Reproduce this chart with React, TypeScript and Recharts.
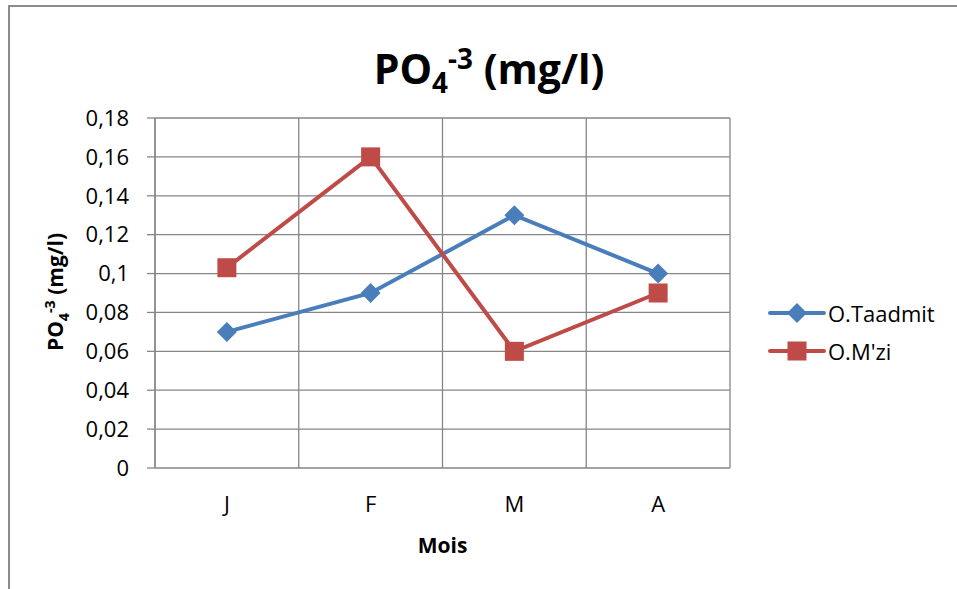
import { LineChart, Line, XAxis, YAxis, CartesianGrid } from 'recharts';

const months = ['J', 'F', 'M', 'A'];
const taadmit = [0.07, 0.09, 0.13, 0.1];
const mzi = [0.103, 0.16, 0.06, 0.09];
const yTicks = [0, 0.02, 0.04, 0.06, 0.08, 0.1, 0.12, 0.14, 0.16, 0.18];
const bounds = [0, 1, 2, 3, 4];
const monthPos = [0.5, 1.5, 2.5, 3.5];

const series = [
  { key: 'taadmit', name: 'O.Taadmit', color: '#4a7ebb', shape: 'diamond' },
  { key: 'mzi', name: "O.M'zi", color: '#be4b48', shape: 'square' },
];

const data = months.map((m, i) => ({ x: monthPos[i], month: m, taadmit: taadmit[i], mzi: mzi[i] }));

const FONT = '"Open Sans", sans-serif';
const GRID = '#868686';

function Marker({ cx, cy, shape, color }: { cx?: number; cy?: number; shape: string; color: string }) {
  if (cx == null || cy == null) return null;
  if (shape === 'diamond') {
    return <path d={`M${cx},${cy - 10}L${cx + 10},${cy}L${cx},${cy + 10}L${cx - 10},${cy}Z`} fill={color} />;
  }
  return <rect x={cx - 9.5} y={cy - 9.5} width={19} height={19} fill={color} />;
}

// legend drawn as plain html so it doesn't eat into the plot area
function LegendBox() {
  return (
    <div style={{ position: 'absolute', left: 768, top: 301, fontFamily: FONT, fontSize: 22, color: '#000' }}>
      {series.map((s, i) => (
        <div key={s.key} style={{ display: 'flex', alignItems: 'center', height: 24, marginTop: i ? 14 : 0 }}>
          <svg width={58} height={24} style={{ display: 'block' }}>
            <line x1={2} y1={12} x2={56} y2={12} stroke={s.color} strokeWidth={4} strokeLinecap="round" />
            <Marker cx={29} cy={12} shape={s.shape} color={s.color} />
          </svg>
          <span style={{ marginLeft: 2, whiteSpace: 'nowrap' }}>{s.name}</span>
        </div>
      ))}
    </div>
  );
}

const fmt = (v: number) => String(v).replace('.', ',');

export default function App() {
  return (
    <div style={{ position: 'absolute', left: 0, top: 0, width: 957, height: 589, overflow: 'hidden', background: '#fff' }}>
      <div style={{ position: 'absolute', left: 8, top: 5, width: 1200, height: 900, border: '2px solid #8c8c8c' }} />
      <div
        style={{
          position: 'absolute', left: 489, top: 30, transform: 'translateX(-50%)', whiteSpace: 'nowrap',
          fontFamily: FONT, fontWeight: 700, fontSize: 41, lineHeight: '56px', color: '#000',
        }}
      >
        PO<sub style={{ fontSize: '0.68em' }}>4</sub><sup style={{ fontSize: '0.68em' }}>-3</sup> (mg/l)
      </div>
      <div
        style={{
          position: 'absolute', left: 57, top: 292, transform: 'translate(-50%, -50%) rotate(-90deg)', whiteSpace: 'nowrap',
          fontFamily: FONT, fontWeight: 700, fontSize: 21, lineHeight: '28px', color: '#000',
        }}
      >
        PO<sub style={{ fontSize: '0.68em' }}>4</sub><sup style={{ fontSize: '0.68em' }}>-3</sup> (mg/l)
      </div>
      <div style={{ position: 'absolute', left: 0, top: 0 }}>
        <LineChart width={957} height={589} data={data} margin={{ top: 118, right: 227, bottom: 21, left: 0 }}>
          <CartesianGrid stroke={GRID} strokeWidth={1.3} />
          <XAxis
            dataKey="x" type="number" domain={[0, 4]} ticks={bounds} height={0}
            tickFormatter={() => ''} tickSize={8} stroke={GRID} axisLine={{ stroke: GRID, strokeWidth: 1.3 }}
            tickLine={{ stroke: GRID, strokeWidth: 1.3 }}
          />
          <XAxis
            xAxisId="lab" dataKey="x" type="number" domain={[0, 4]} ticks={monthPos} height={100}
            tickFormatter={(v: number) => months[Math.floor(v)]} axisLine={false} tickLine={false} tickSize={0}
            tickMargin={28} tick={{ fill: '#000', fontSize: 22, fontFamily: FONT }}
            label={{ value: 'Mois', position: 'insideBottom', offset: 15, fill: '#000', fontSize: 21, fontWeight: 700, fontFamily: FONT }}
          />
          <YAxis
            type="number" domain={[0, 0.18]} ticks={yTicks} width={155} tickSize={8} tickMargin={18}
            tickFormatter={fmt} axisLine={{ stroke: GRID, strokeWidth: 1.3 }} tickLine={{ stroke: GRID, strokeWidth: 1.3 }}
            tick={{ fill: '#000', fontSize: 22, fontFamily: FONT }} interval={0}
          />
          {series.map((s) => (
            <Line
              key={s.key} dataKey={s.key} name={s.name} stroke={s.color} strokeWidth={4}
              isAnimationActive={false} activeDot={false}
              dot={(p: any) => <Marker key={`${s.key}-${p.index}`} cx={p.cx} cy={p.cy} shape={s.shape} color={s.color} />}
            />
          ))}
        </LineChart>
      </div>
      <LegendBox />
    </div>
  );
}
